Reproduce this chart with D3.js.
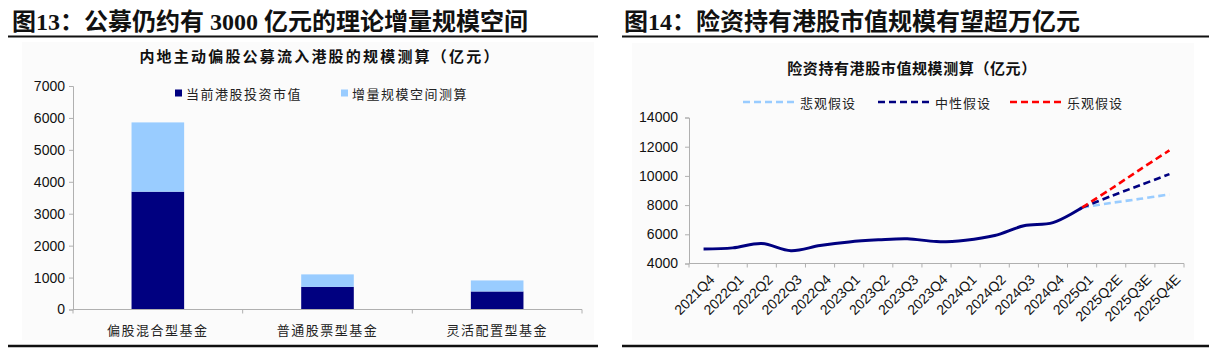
<!DOCTYPE html>
<html>
<head>
<meta charset="utf-8">
<script src="https://cdn.jsdelivr.net/npm/d3@7"></script>
<style>
  body { margin: 0; background: #fff; }
  svg { display: block; }
  text { font-family: "Noto Sans CJK SC", sans-serif; }
  .num { font-family: "Liberation Sans", Arial, sans-serif; }
</style>
</head>
<body>
<div id="chart"></div>
<script>
// left chart data
const funds = ['偏股混合型基金', '普通股票型基金', '灵活配置型基金'];
const holdNow = [3690, 710, 565];
const addSpace = [2170, 390, 345];
const leftTicks = [0, 1000, 2000, 3000, 4000, 5000, 6000, 7000];

// right chart data
const quarters = ['2021Q4','2022Q1','2022Q2','2022Q3','2022Q4','2023Q1','2023Q2','2023Q3',
  '2023Q4','2024Q1','2024Q2','2024Q3','2024Q4','2025Q1','2025Q2E','2025Q3E','2025Q4E'];
const actual = [5000, 5070, 5370, 4880, 5230, 5480, 5620, 5700, 5500, 5600, 5920, 6580, 6800, 7830];
const forecastQ = ['2025Q1','2025Q2E','2025Q3E','2025Q4E'];
const pessimistic = [7830, 8150, 8430, 8730];
const neutral = [7830, 8620, 9370, 10120];
const optimistic = [7830, 9120, 10450, 11750];
const rightTicks = [4000, 6000, 8000, 10000, 12000, 14000];

const navy = '#000080', light = '#99ccff', red = '#ff0000', axisCol = '#b0b0b0';

const svg = d3.select('#chart').append('svg')
  .attr('width', 1217).attr('height', 353);

// panel backgrounds
svg.append('rect').attr('x', 22).attr('y', 42).attr('width', 572).attr('height', 298).attr('fill', '#fbfbfb');
svg.append('rect').attr('x', 632).attr('y', 43).attr('width', 562).attr('height', 297).attr('fill', '#fbfbfb');

// headings
const heading = (x, t) => svg.append('text')
  .attr('x', x).attr('y', 30)
  .style('font-family', '"Liberation Serif", "Noto Sans CJK SC", serif')
  .style('font-size', '24px').style('font-weight', 'bold').attr('fill', '#111')
  .text(t);
heading(12, '图13：公募仍约有 3000 亿元的理论增量规模空间');
heading(624, '图14：险资持有港股市值规模有望超万亿元');

[[8, 598], [622, 1209]].forEach(([a, b]) => {
  svg.append('line').attr('x1', a).attr('x2', b).attr('y1', 36.5).attr('y2', 36.5)
    .attr('stroke', '#111').attr('stroke-width', 2);
  svg.append('line').attr('x1', a).attr('x2', b).attr('y1', 346).attr('y2', 346)
    .attr('stroke', '#111').attr('stroke-width', 2.5);
});

// ---------- left: stacked bars ----------
const L = svg.append('g');
L.append('text').attr('x', 320).attr('y', 55).attr('text-anchor', 'middle')
  .attr('dominant-baseline', 'central')
  .style('font-size', '15px').style('font-weight', 'bold').style('letter-spacing', '2.2px')
  .attr('fill', '#111').text('内地主动偏股公募流入港股的规模测算（亿元）');

const xL = d3.scaleBand().domain(funds).range([73, 582]);
const yL = d3.scaleLinear().domain([0, 7000]).range([309.5, 86]);

const stackData = funds.map((f, i) => ({fund: f, now: holdNow[i], add: addSpace[i]}));
const series = d3.stack().keys(['now', 'add'])(stackData);
const colL = {now: navy, add: light};
const barW = xL.bandwidth() * 0.31;

L.selectAll('g.s').data(series).join('g').attr('class', 's')
  .attr('fill', d => colL[d.key])
  .selectAll('rect').data(d => d).join('rect')
  .attr('x', d => xL(d.data.fund) + (xL.bandwidth() - barW) / 2)
  .attr('width', barW)
  .attr('y', d => yL(d[1]))
  .attr('height', d => yL(d[0]) - yL(d[1]));

const gyL = L.append('g').attr('transform', 'translate(73,0)')
  .call(d3.axisLeft(yL).tickValues(leftTicks).tickSize(4).tickPadding(4).tickFormat(d3.format('d')));
gyL.select('.domain').attr('stroke', axisCol);
gyL.selectAll('line').attr('stroke', axisCol);
gyL.selectAll('text').attr('class', 'num').style('font-size', '14px').attr('fill', '#111');

L.append('line').attr('x1', 73).attr('x2', 582).attr('y1', yL(0)).attr('y2', yL(0)).attr('stroke', axisCol);
L.selectAll('line.bt').data(funds.map((f, i) => i).concat([funds.length])).join('line').attr('class', 'bt')
  .attr('x1', i => 73 + i * xL.step()).attr('x2', i => 73 + i * xL.step())
  .attr('y1', yL(0)).attr('y2', yL(0) + 4).attr('stroke', axisCol);

L.selectAll('text.cat').data(funds).join('text').attr('class', 'cat')
  .attr('x', d => xL(d) + xL.bandwidth() / 2).attr('y', 329)
  .attr('text-anchor', 'middle').attr('dominant-baseline', 'central')
  .style('font-size', '13px').style('letter-spacing', '1.5px').attr('fill', '#222').text(d => d);

// legend
const legL = [{t: '当前港股投资市值', c: navy, x: 175}, {t: '增量规模空间测算', c: light, x: 341}];
const lg = L.selectAll('g.lg').data(legL).join('g').attr('class', 'lg')
  .attr('transform', d => `translate(${d.x},93)`);
lg.append('rect').attr('x', 0).attr('y', -3.5).attr('width', 7).attr('height', 7).attr('fill', d => d.c);
lg.append('text').attr('x', 11).attr('dominant-baseline', 'central')
  .style('font-size', '13px').style('letter-spacing', '1.5px').attr('fill', '#222').text(d => d.t);

// ---------- right: line chart ----------
const R = svg.append('g');
R.append('text').attr('x', 912).attr('y', 67).attr('text-anchor', 'middle')
  .attr('dominant-baseline', 'central')
  .style('font-size', '15px').style('font-weight', 'bold').style('letter-spacing', '0.6px')
  .attr('fill', '#111').text('险资持有港股市值规模测算（亿元）');

const xR = d3.scaleBand().domain(quarters).range([689, 1184]);
const yR = d3.scaleLinear().domain([4000, 14000]).range([263.5, 117.5]);
const cx = q => xR(q) + xR.bandwidth() / 2;

const gyR = R.append('g').attr('transform', 'translate(689,0)')
  .call(d3.axisLeft(yR).tickValues(rightTicks).tickSize(4).tickPadding(7).tickFormat(d3.format('d')));
gyR.select('.domain').attr('stroke', axisCol);
gyR.selectAll('line').attr('stroke', axisCol);
gyR.selectAll('text').attr('class', 'num').style('font-size', '14px').attr('fill', '#111');

R.append('line').attr('x1', 689).attr('x2', 1184).attr('y1', yR(4000)).attr('y2', yR(4000)).attr('stroke', axisCol);
R.selectAll('line.bt').data(d3.range(quarters.length + 1)).join('line').attr('class', 'bt')
  .attr('x1', i => 689 + i * xR.step()).attr('x2', i => 689 + i * xR.step())
  .attr('y1', yR(4000)).attr('y2', yR(4000) + 4).attr('stroke', axisCol);

R.selectAll('text.q').data(quarters).join('text').attr('class', 'q num')
  .attr('transform', d => `translate(${cx(d) + 5},${yR(4000) + 10}) rotate(-45)`)
  .attr('text-anchor', 'end').attr('dy', '0.7em')
  .style('font-size', '14px').attr('fill', '#111').text(d => d);

const line = d3.line().x(d => cx(d.q)).y(d => yR(d.v)).curve(d3.curveCatmullRom);
const fc = [
  {name: '悲观假设', vals: pessimistic, c: light, lx: 743},
  {name: '中性假设', vals: neutral, c: navy, lx: 878},
  {name: '乐观假设', vals: optimistic, c: red, lx: 1010}
];
R.selectAll('path.fc').data(fc).join('path').attr('class', 'fc')
  .attr('d', s => line(s.vals.map((v, i) => ({q: forecastQ[i], v}))))
  .attr('fill', 'none').attr('stroke', s => s.c).attr('stroke-width', 2.6)
  .attr('stroke-dasharray', '7,4');

R.append('path')
  .attr('d', line(actual.map((v, i) => ({q: quarters[i], v}))))
  .attr('fill', 'none').attr('stroke', navy).attr('stroke-width', 3);

const lr = R.selectAll('g.lr').data(fc).join('g').attr('class', 'lr')
  .attr('transform', s => `translate(${s.lx},102)`);
lr.append('line').attr('x1', 0).attr('x2', 52).attr('stroke', s => s.c)
  .attr('stroke-width', 2.6).attr('stroke-dasharray', '7,4');
lr.append('text').attr('x', 57).attr('dominant-baseline', 'central')
  .style('font-size', '13px').style('letter-spacing', '1px').attr('fill', '#222').text(s => s.name);
</script>
</body>
</html>
